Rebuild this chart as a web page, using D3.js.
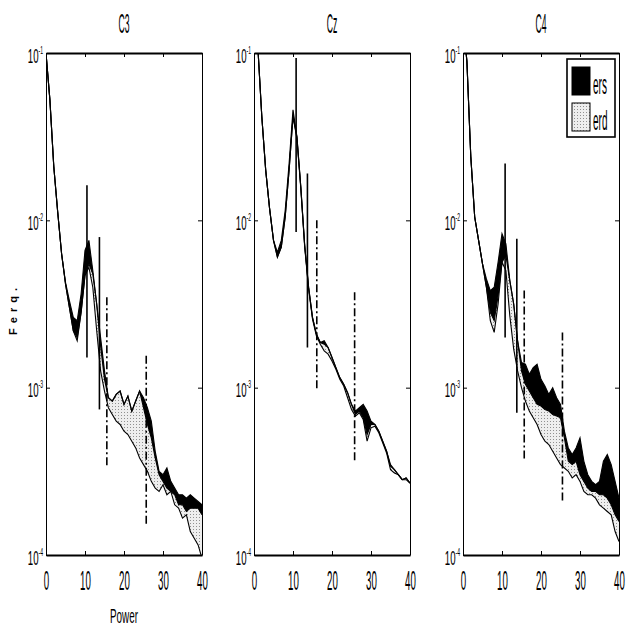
<!DOCTYPE html>
<html>
<head>
<meta charset="utf-8">
<script src="https://cdn.jsdelivr.net/npm/d3@7"></script>
<style>
  body { margin: 0; background: #fff; }
  text { font-family: "Liberation Sans", Arial, sans-serif; fill: #000; }
</style>
</head>
<body>
<script>
// frequency bins (Hz)
var freqs = [0,1,2,3,4,5,6,7,8,9,10,11,12,13,14,15,16,17,18,19,20,
  21,22,23,24,25,26,27,28,29,30,31,32,33,34,35,36,37,38,39,40];

// spectra, stored as log10(power)
var c3Rest = [-1.00,-1.28,-1.68,-1.95,-2.20,-2.38,-2.52,-2.66,-2.70,-2.55,-2.33,-2.26,-2.32,-2.50,-2.75,-2.95,-3.06,-3.08,-3.04,-3.02,-3.10,
  -3.05,-3.14,-3.08,-3.02,-3.12,-3.22,-3.30,-3.42,-3.52,-3.56,-3.60,-3.62,-3.64,-3.70,-3.70,-3.74,-3.72,-3.72,-3.72,-3.76];
var c3Ers = [-1.00,-1.28,-1.68,-1.95,-2.20,-2.37,-2.48,-2.58,-2.60,-2.44,-2.18,-2.12,-2.30,-2.50,-2.70,-2.90,-3.06,-3.08,-3.04,-3.02,-3.10,
  -3.05,-3.14,-3.08,-3.02,-3.06,-3.12,-3.20,-3.38,-3.50,-3.52,-3.48,-3.56,-3.60,-3.64,-3.64,-3.66,-3.64,-3.66,-3.68,-3.70];
var c3Erd = [-1.00,-1.28,-1.68,-1.95,-2.20,-2.38,-2.52,-2.66,-2.72,-2.55,-2.33,-2.28,-2.40,-2.66,-2.90,-3.02,-3.12,-3.16,-3.20,-3.22,-3.26,
  -3.28,-3.32,-3.36,-3.42,-3.46,-3.50,-3.56,-3.60,-3.62,-3.58,-3.64,-3.62,-3.70,-3.72,-3.78,-3.76,-3.86,-3.90,-3.94,-4.02];

var czRest = [-0.70,-0.97,-1.38,-1.70,-1.93,-2.12,-2.22,-2.16,-1.98,-1.70,-1.38,-1.50,-1.80,-2.15,-2.40,-2.58,-2.68,-2.73,-2.74,-2.76,-2.82,
  -2.88,-2.94,-2.98,-3.03,-3.10,-3.16,-3.14,-3.18,-3.28,-3.22,-3.22,-3.26,-3.32,-3.38,-3.47,-3.49,-3.52,-3.55,-3.54,-3.57];
var czErs = [-0.70,-0.97,-1.38,-1.70,-1.93,-2.12,-2.19,-2.12,-1.94,-1.66,-1.34,-1.50,-1.80,-2.15,-2.40,-2.58,-2.68,-2.73,-2.72,-2.76,-2.82,
  -2.88,-2.94,-2.98,-3.03,-3.10,-3.14,-3.12,-3.10,-3.14,-3.20,-3.22,-3.26,-3.32,-3.38,-3.46,-3.49,-3.52,-3.55,-3.54,-3.57];
var czErd = [-0.70,-0.97,-1.38,-1.70,-1.93,-2.12,-2.22,-2.16,-1.98,-1.70,-1.38,-1.51,-1.81,-2.16,-2.41,-2.59,-2.69,-2.74,-2.78,-2.80,-2.84,
  -2.89,-2.95,-2.99,-3.06,-3.13,-3.17,-3.15,-3.19,-3.32,-3.24,-3.23,-3.27,-3.33,-3.39,-3.49,-3.51,-3.52,-3.55,-3.55,-3.57];

var c4Rest = [-0.80,-1.05,-1.62,-1.98,-2.12,-2.26,-2.40,-2.55,-2.60,-2.45,-2.25,-2.21,-2.36,-2.50,-2.72,-2.90,-2.98,-3.02,-3.06,-3.10,-3.11,
  -3.13,-3.14,-3.16,-3.17,-3.18,-3.30,-3.44,-3.46,-3.44,-3.52,-3.56,-3.60,-3.62,-3.62,-3.64,-3.64,-3.66,-3.70,-3.76,-3.80];
var c4Ers = [-0.80,-1.05,-1.62,-1.98,-2.12,-2.26,-2.35,-2.42,-2.40,-2.25,-2.08,-2.14,-2.36,-2.50,-2.72,-2.85,-2.86,-2.92,-2.88,-2.86,-2.95,
  -2.99,-3.04,-3.00,-3.06,-3.10,-3.26,-3.36,-3.40,-3.36,-3.30,-3.44,-3.52,-3.56,-3.58,-3.56,-3.44,-3.40,-3.46,-3.56,-3.66];
var c4Erd = [-0.80,-1.05,-1.62,-1.98,-2.12,-2.26,-2.40,-2.60,-2.67,-2.50,-2.25,-2.30,-2.57,-2.77,-2.90,-3.00,-3.08,-3.14,-3.18,-3.22,-3.28,
  -3.32,-3.34,-3.38,-3.42,-3.46,-3.48,-3.50,-3.54,-3.52,-3.56,-3.62,-3.64,-3.64,-3.66,-3.70,-3.72,-3.74,-3.76,-3.86,-3.92];

// band markers: [freq, top log10, bottom log10, dashed?]
var c3Marks = [[10.5,-1.79,-2.82,0],[13.7,-2.10,-3.13,0],[15.6,-2.46,-3.47,1],[25.7,-2.81,-3.82,1]];
var czMarks = [[10.8,-1.03,-2.07,0],[13.7,-1.72,-2.76,0],[16.1,-2.00,-3.01,1],[25.8,-2.43,-3.44,1]];
var c4Marks = [[10.8,-1.66,-2.70,0],[13.8,-2.11,-3.15,0],[15.7,-2.42,-3.43,1],[25.5,-2.67,-3.69,1]];

var panelNames = ["C3", "Cz", "C4"];
var xTicks = [0, 10, 20, 30, 40];
var yTickExps = [-1, -2, -3, -4];
var legendNames = ["ers", "erd"];

var panels = [
  { name: panelNames[0], rest: c3Rest, ers: c3Ers, erd: c3Erd, marks: c3Marks },
  { name: panelNames[1], rest: czRest, ers: czErs, erd: czErd, marks: czMarks },
  { name: panelNames[2], rest: c4Rest, ers: c4Ers, erd: c4Erd, marks: c4Marks }
];

var width = 630, height = 630;
var panelLeft = [46, 254, 463], panelW = 156;
var plotTop = 53, plotBottom = 555;

var svg = d3.select("body").append("svg")
  .attr("width", width)
  .attr("height", height);

var defs = svg.append("defs");
var pat = defs.append("pattern")
  .attr("id", "stipple")
  .attr("width", 3).attr("height", 3)
  .attr("patternUnits", "userSpaceOnUse");
pat.append("rect").attr("width", 3).attr("height", 3).attr("fill", "#eeeeee");
pat.append("rect").attr("x", 1).attr("y", 1).attr("width", 1).attr("height", 1).attr("fill", "#909090");

var y = d3.scaleLog().domain([1e-4, 1e-1]).range([plotBottom, plotTop]);
function pw(e) { return Math.pow(10, e); }

// narrow tall text like the scanned figure
function narrowText(g, x, yy, str, size, sx, anchor) {
  return g.append("text")
    .attr("transform", "translate(" + x + "," + yy + ") scale(" + sx + ",1)")
    .attr("text-anchor", anchor || "middle")
    .style("font-size", size + "px")
    .text(str);
}

panels.forEach(function(p, i) {
  var x0 = panelLeft[i], x1 = panelLeft[i] + panelW;
  var x = d3.scaleLinear().domain([0, 40]).range([x0, x1]);
  var g = svg.append("g");

  defs.append("clipPath").attr("id", "clip" + i)
    .append("rect").attr("x", x0).attr("y", plotTop).attr("width", panelW).attr("height", plotBottom - plotTop);

  var rows = freqs.map(function(f, k) {
    return { f: f, rest: pw(p.rest[k]), ers: pw(p.ers[k]), erd: pw(p.erd[k]) };
  });

  var plot = g.append("g").attr("clip-path", "url(#clip" + i + ")");

  var erdArea = d3.area()
    .x(function(d) { return x(d.f); })
    .y0(function(d) { return y(Math.min(d.rest, d.erd)); })
    .y1(function(d) { return y(d.rest); });
  var ersArea = d3.area()
    .x(function(d) { return x(d.f); })
    .y0(function(d) { return y(d.rest); })
    .y1(function(d) { return y(Math.max(d.rest, d.ers)); });

  plot.append("path").datum(rows).attr("d", erdArea).attr("fill", "url(#stipple)");
  plot.append("path").datum(rows).attr("d", ersArea).attr("fill", "#000");

  ["erd", "ers", "rest"].forEach(function(key) {
    var line = d3.line()
      .x(function(d) { return x(d.f); })
      .y(function(d) { return y(d[key]); });
    plot.append("path").datum(rows)
      .attr("d", line)
      .attr("fill", "none")
      .attr("stroke", "#000")
      .attr("stroke-width", 1.1);
  });

  plot.selectAll("line.mark")
    .data(p.marks)
    .enter()
    .append("line")
    .attr("class", "mark")
    .attr("x1", function(d) { return x(d[0]); })
    .attr("x2", function(d) { return x(d[0]); })
    .attr("y1", function(d) { return y(pw(d[1])); })
    .attr("y2", function(d) { return y(pw(d[2])); })
    .attr("stroke", "#000")
    .attr("stroke-width", 1.6)
    .attr("stroke-dasharray", function(d) { return d[3] ? "8,3,2,3" : null; });

  // axes
  var xAxis = g.append("g")
    .attr("transform", "translate(0," + plotBottom + ")")
    .call(d3.axisBottom(x).tickValues(xTicks).tickSizeInner(-4).tickSizeOuter(0).tickFormat(""));
  xAxis.select(".domain").attr("stroke-width", 2);
  xAxis.selectAll(".tick").each(function(d) {
    narrowText(d3.select(this), 0, 35, d, 27, 0.36);
  });

  var xTop = g.append("g")
    .attr("transform", "translate(0," + plotTop + ")")
    .call(d3.axisTop(x).tickValues(xTicks).tickSizeInner(-4).tickSizeOuter(0).tickFormat(""));
  xTop.select(".domain").attr("stroke-width", 2);

  var yAxis = g.append("g")
    .attr("transform", "translate(" + x0 + ",0)")
    .call(d3.axisLeft(y).tickValues(yTickExps.map(pw)).tickSizeInner(-4).tickSizeOuter(0).tickFormat(""));
  yAxis.selectAll(".tick").each(function(d, k) {
    var t = narrowText(d3.select(this), -3, 9, "", 21, 0.46, "end");
    t.append("tspan").text("10");
    t.append("tspan").attr("dy", -9).style("font-size", "11px").text(yTickExps[k]);
  });

  g.append("g")
    .attr("transform", "translate(" + x1 + ",0)")
    .call(d3.axisRight(y).tickValues(yTickExps.map(pw)).tickSizeInner(-4).tickSizeOuter(0).tickFormat(""));

  narrowText(g, (x0 + x1) / 2, 33, p.name, 27, 0.32);
});

// legend in the C4 panel
var leg = svg.append("g");
leg.append("rect")
  .attr("x", 567).attr("y", 59).attr("width", 48).attr("height", 78)
  .attr("fill", "#fff").attr("stroke", "#000").attr("stroke-width", 1.6);
leg.selectAll("rect.key")
  .data(legendNames)
  .enter()
  .append("rect")
  .attr("class", "key")
  .attr("x", 572)
  .attr("y", function(d, i) { return 67 + i * 36; })
  .attr("width", 18).attr("height", 28)
  .attr("fill", function(d, i) { return i === 0 ? "#000" : "url(#stipple)"; })
  .attr("stroke", "#000");
legendNames.forEach(function(n, i) {
  narrowText(leg, 593, 94 + i * 36, n, 27, 0.37, "start");
});

// axis titles
narrowText(svg, 124, 623, "Power", 21, 0.47);
svg.append("text")
  .attr("transform", "translate(17,309) rotate(-90)")
  .attr("text-anchor", "middle")
  .style("font-size", "11px")
  .style("font-weight", "bold")
  .style("letter-spacing", "5px")
  .text("Ferq.");
</script>
</body>
</html>
